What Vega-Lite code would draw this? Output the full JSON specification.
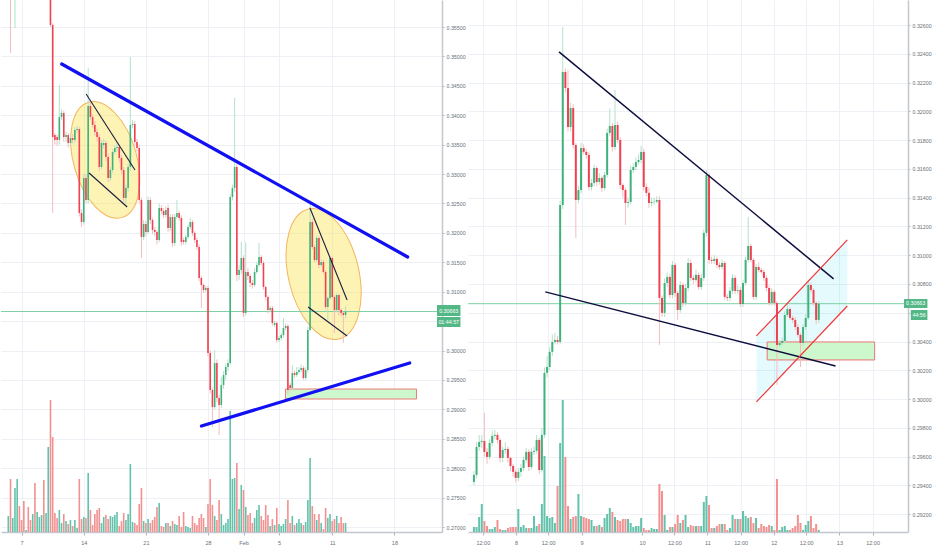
{
"$schema":"https://vega.github.io/schema/vega-lite/v6.json",
"padding":0,
"background":"#ffffff",
"spacing":26,
"bounds":"flush",
"config":{"view":{"stroke":null},"font":"Liberation Sans","axis":{"labelFont":"Liberation Sans","labelColor":"#6b6f78","labelFontSize":5.3,"gridColor":"#edf1f5","domainColor":"#c4c7cd","domainWidth":1.5,"tickColor":"#b0b3ba","labelOverlap":false}},
"datasets":{
"L":[
{"i":1,"o":0.368,"h":0.371,"l":0.366,"c":0.37,"v":16},
{"i":2,"o":0.37,"h":0.371,"l":0.3506,"c":0.367,"v":53},
{"i":3,"o":0.367,"h":0.37,"l":0.365,"c":0.369,"v":14},
{"i":4,"o":0.369,"h":0.373,"l":0.3548,"c":0.372,"v":44},
{"i":5,"o":0.372,"h":0.376,"l":0.37,"c":0.374,"v":53},
{"i":6,"o":0.374,"h":0.375,"l":0.37,"c":0.372,"v":26},
{"i":7,"o":0.372,"h":0.373,"l":0.369,"c":0.371,"v":12},
{"i":8,"o":0.371,"h":0.372,"l":0.367,"c":0.369,"v":31},
{"i":9,"o":0.369,"h":0.371,"l":0.368,"c":0.3695,"v":2},
{"i":10,"o":0.3695,"h":0.37,"l":0.366,"c":0.368,"v":25},
{"i":11,"o":0.368,"h":0.369,"l":0.366,"c":0.367,"v":12},
{"i":12,"o":0.367,"h":0.37,"l":0.366,"c":0.3685,"v":18},
{"i":13,"o":0.3685,"h":0.37,"l":0.365,"c":0.3665,"v":49},
{"i":14,"o":0.3665,"h":0.369,"l":0.3655,"c":0.368,"v":20},
{"i":15,"o":0.368,"h":0.37,"l":0.367,"c":0.369,"v":15},
{"i":16,"o":0.369,"h":0.371,"l":0.368,"c":0.37,"v":17},
{"i":17,"o":0.37,"h":0.371,"l":0.366,"c":0.3675,"v":52},
{"i":18,"o":0.3675,"h":0.37,"l":0.3665,"c":0.369,"v":19},
{"i":19,"o":0.369,"h":0.374,"l":0.368,"c":0.372,"v":85},
{"i":20,"o":0.372,"h":0.373,"l":0.355,"c":0.35534,"v":132},
{"i":21,"o":0.35534,"h":0.3557,"l":0.32338,"c":0.3363,"v":95},
{"i":22,"o":0.33664,"h":0.337,"l":0.335,"c":0.33579,"v":19},
{"i":23,"o":0.3363,"h":0.3367,"l":0.3348,"c":0.33579,"v":14},
{"i":24,"o":0.33579,"h":0.34514,"l":0.335,"c":0.3397,"v":22},
{"i":25,"o":0.3397,"h":0.341,"l":0.3392,"c":0.34038,"v":9},
{"i":26,"o":0.34038,"h":0.3408,"l":0.3355,"c":0.3363,"v":18},
{"i":27,"o":0.3363,"h":0.3372,"l":0.3355,"c":0.33664,"v":11},
{"i":28,"o":0.33664,"h":0.337,"l":0.3345,"c":0.33528,"v":8},
{"i":29,"o":0.33528,"h":0.3367,"l":0.3348,"c":0.33613,"v":12},
{"i":30,"o":0.33613,"h":0.3368,"l":0.3352,"c":0.33579,"v":6},
{"i":31,"o":0.33579,"h":0.338,"l":0.3353,"c":0.33749,"v":12},
{"i":32,"o":0.33749,"h":0.3382,"l":0.337,"c":0.33766,"v":4},
{"i":33,"o":0.33766,"h":0.338,"l":0.3228,"c":0.32338,"v":53},
{"i":34,"o":0.32338,"h":0.324,"l":0.321,"c":0.32185,"v":13},
{"i":35,"o":0.32185,"h":0.33,"l":0.3214,"c":0.32933,"v":15},
{"i":36,"o":0.32933,"h":0.33,"l":0.325,"c":0.32559,"v":14},
{"i":37,"o":0.32559,"h":0.34803,"l":0.325,"c":0.34157,"v":59},
{"i":38,"o":0.34157,"h":0.3422,"l":0.3392,"c":0.3397,"v":22},
{"i":39,"o":0.3397,"h":0.3402,"l":0.3378,"c":0.33834,"v":7},
{"i":40,"o":0.33834,"h":0.339,"l":0.3365,"c":0.33715,"v":18},
{"i":41,"o":0.33715,"h":0.3377,"l":0.3355,"c":0.3363,"v":22},
{"i":42,"o":0.3363,"h":0.3368,"l":0.3305,"c":0.3312,"v":24},
{"i":43,"o":0.3312,"h":0.3358,"l":0.3308,"c":0.33528,"v":9},
{"i":44,"o":0.33494,"h":0.336,"l":0.3344,"c":0.33528,"v":15},
{"i":45,"o":0.33528,"h":0.3357,"l":0.3322,"c":0.3329,"v":17},
{"i":46,"o":0.3329,"h":0.3335,"l":0.3286,"c":0.32933,"v":13},
{"i":47,"o":0.32933,"h":0.3312,"l":0.3288,"c":0.33069,"v":16},
{"i":48,"o":0.33069,"h":0.3342,"l":0.3302,"c":0.33375,"v":15},
{"i":49,"o":0.33375,"h":0.335,"l":0.3333,"c":0.33443,"v":17},
{"i":50,"o":0.33443,"h":0.3352,"l":0.3338,"c":0.3346,"v":20},
{"i":51,"o":0.3346,"h":0.335,"l":0.332,"c":0.33273,"v":6},
{"i":52,"o":0.33273,"h":0.3332,"l":0.33,"c":0.33069,"v":11},
{"i":53,"o":0.33069,"h":0.3312,"l":0.3252,"c":0.32593,"v":19},
{"i":54,"o":0.32593,"h":0.3282,"l":0.325,"c":0.32763,"v":12},
{"i":55,"o":0.32763,"h":0.3318,"l":0.327,"c":0.3312,"v":18},
{"i":56,"o":0.3312,"h":0.3499,"l":0.3305,"c":0.33834,"v":68},
{"i":57,"o":0.33834,"h":0.3392,"l":0.3378,"c":0.33851,"v":10},
{"i":58,"o":0.33851,"h":0.339,"l":0.3348,"c":0.33545,"v":9},
{"i":59,"o":0.33545,"h":0.336,"l":0.3338,"c":0.33443,"v":7},
{"i":60,"o":0.33443,"h":0.335,"l":0.325,"c":0.32559,"v":28},
{"i":61,"o":0.32559,"h":0.326,"l":0.31573,"c":0.3193,"v":44},
{"i":62,"o":0.3193,"h":0.3222,"l":0.3188,"c":0.32151,"v":11},
{"i":63,"o":0.32151,"h":0.322,"l":0.3195,"c":0.32015,"v":9},
{"i":64,"o":0.32015,"h":0.3262,"l":0.3198,"c":0.32559,"v":13},
{"i":65,"o":0.32559,"h":0.326,"l":0.3215,"c":0.32219,"v":9},
{"i":66,"o":0.32219,"h":0.3226,"l":0.3198,"c":0.32049,"v":12},
{"i":67,"o":0.32049,"h":0.321,"l":0.3195,"c":0.32015,"v":15},
{"i":68,"o":0.32015,"h":0.3205,"l":0.318,"c":0.31879,"v":25},
{"i":69,"o":0.31879,"h":0.325,"l":0.3184,"c":0.32423,"v":29},
{"i":70,"o":0.32423,"h":0.3247,"l":0.3232,"c":0.32372,"v":6},
{"i":71,"o":0.32372,"h":0.3242,"l":0.3225,"c":0.32304,"v":5},
{"i":72,"o":0.32304,"h":0.3245,"l":0.3226,"c":0.32389,"v":9},
{"i":73,"o":0.32423,"h":0.3248,"l":0.3202,"c":0.32083,"v":9},
{"i":74,"o":0.32083,"h":0.3232,"l":0.3203,"c":0.3227,"v":6},
{"i":75,"o":0.3227,"h":0.3232,"l":0.3176,"c":0.31828,"v":11},
{"i":76,"o":0.31828,"h":0.3232,"l":0.3178,"c":0.3227,"v":8},
{"i":77,"o":0.3227,"h":0.3256,"l":0.3223,"c":0.32338,"v":7},
{"i":78,"o":0.32338,"h":0.3238,"l":0.322,"c":0.32253,"v":16},
{"i":79,"o":0.32253,"h":0.323,"l":0.3178,"c":0.31845,"v":5},
{"i":80,"o":0.31879,"h":0.3192,"l":0.318,"c":0.31845,"v":20},
{"i":81,"o":0.31845,"h":0.3197,"l":0.318,"c":0.3193,"v":6},
{"i":82,"o":0.3193,"h":0.3214,"l":0.3189,"c":0.321,"v":5},
{"i":83,"o":0.321,"h":0.3225,"l":0.3206,"c":0.32185,"v":4},
{"i":84,"o":0.32185,"h":0.3222,"l":0.3195,"c":0.31998,"v":16},
{"i":85,"o":0.31998,"h":0.3203,"l":0.3183,"c":0.31879,"v":9},
{"i":86,"o":0.31879,"h":0.3192,"l":0.3171,"c":0.3176,"v":7},
{"i":87,"o":0.3176,"h":0.318,"l":0.3118,"c":0.31233,"v":14},
{"i":88,"o":0.31233,"h":0.3127,"l":0.3072,"c":0.31114,"v":18},
{"i":89,"o":0.31114,"h":0.3114,"l":0.3098,"c":0.31029,"v":14},
{"i":90,"o":0.31029,"h":0.311,"l":0.3099,"c":0.31063,"v":5},
{"i":91,"o":0.31063,"h":0.311,"l":0.299,"c":0.29958,"v":28},
{"i":92,"o":0.29958,"h":0.3,"l":0.2927,"c":0.29329,"v":53},
{"i":93,"o":0.29329,"h":0.2936,"l":0.287,"c":0.2904,"v":27},
{"i":94,"o":0.2904,"h":0.3001,"l":0.29,"c":0.29788,"v":16},
{"i":95,"o":0.29788,"h":0.2985,"l":0.2912,"c":0.29193,"v":12},
{"i":96,"o":0.29193,"h":0.2925,"l":0.28564,"c":0.29074,"v":32},
{"i":97,"o":0.29074,"h":0.2955,"l":0.2902,"c":0.29414,"v":18},
{"i":98,"o":0.29414,"h":0.2965,"l":0.2935,"c":0.29584,"v":7},
{"i":99,"o":0.29584,"h":0.2978,"l":0.295,"c":0.2972,"v":9},
{"i":100,"o":0.2972,"h":0.2985,"l":0.2965,"c":0.29788,"v":13},
{"i":101,"o":0.29788,"h":0.3266,"l":0.2975,"c":0.3261,"v":121},
{"i":102,"o":0.3261,"h":0.3282,"l":0.3255,"c":0.32763,"v":53},
{"i":103,"o":0.32763,"h":0.34293,"l":0.327,"c":0.3312,"v":54},
{"i":104,"o":0.3312,"h":0.3318,"l":0.3118,"c":0.31284,"v":69},
{"i":105,"o":0.31284,"h":0.3145,"l":0.312,"c":0.31369,"v":23},
{"i":106,"o":0.31369,"h":0.3185,"l":0.313,"c":0.31573,"v":47},
{"i":107,"o":0.31573,"h":0.3162,"l":0.3057,"c":0.30638,"v":42},
{"i":108,"o":0.30638,"h":0.3184,"l":0.306,"c":0.31335,"v":25},
{"i":109,"o":0.31335,"h":0.314,"l":0.312,"c":0.31267,"v":17},
{"i":110,"o":0.31267,"h":0.313,"l":0.3108,"c":0.31148,"v":19},
{"i":111,"o":0.31148,"h":0.312,"l":0.3105,"c":0.31114,"v":9},
{"i":112,"o":0.31114,"h":0.314,"l":0.3108,"c":0.31335,"v":14},
{"i":113,"o":0.31335,"h":0.315,"l":0.313,"c":0.31454,"v":22},
{"i":114,"o":0.31454,"h":0.3183,"l":0.3142,"c":0.3159,"v":27},
{"i":115,"o":0.3159,"h":0.3162,"l":0.3145,"c":0.31488,"v":16},
{"i":116,"o":0.31488,"h":0.3152,"l":0.3103,"c":0.3108,"v":12},
{"i":117,"o":0.3108,"h":0.311,"l":0.3085,"c":0.3091,"v":27},
{"i":118,"o":0.3091,"h":0.3094,"l":0.3063,"c":0.30689,"v":17},
{"i":119,"o":0.30689,"h":0.3076,"l":0.3065,"c":0.30723,"v":6},
{"i":120,"o":0.30723,"h":0.3076,"l":0.3042,"c":0.30468,"v":13},
{"i":121,"o":0.30434,"h":0.305,"l":0.304,"c":0.30468,"v":7},
{"i":122,"o":0.30468,"h":0.305,"l":0.3013,"c":0.30179,"v":24},
{"i":123,"o":0.30179,"h":0.3025,"l":0.3014,"c":0.30213,"v":8},
{"i":124,"o":0.30213,"h":0.303,"l":0.3017,"c":0.30264,"v":6},
{"i":125,"o":0.30264,"h":0.3055,"l":0.3022,"c":0.30383,"v":8},
{"i":126,"o":0.30383,"h":0.3046,"l":0.3034,"c":0.30417,"v":13},
{"i":127,"o":0.30417,"h":0.3045,"l":0.2926,"c":0.29329,"v":32},
{"i":128,"o":0.29414,"h":0.2945,"l":0.2931,"c":0.29363,"v":9},
{"i":129,"o":0.29363,"h":0.2975,"l":0.2933,"c":0.29618,"v":16},
{"i":130,"o":0.29618,"h":0.2966,"l":0.2954,"c":0.29584,"v":7},
{"i":131,"o":0.29584,"h":0.2972,"l":0.2955,"c":0.29635,"v":9},
{"i":132,"o":0.29635,"h":0.2972,"l":0.296,"c":0.29669,"v":13},
{"i":133,"o":0.29669,"h":0.2976,"l":0.2963,"c":0.29703,"v":9},
{"i":134,"o":0.29703,"h":0.2974,"l":0.295,"c":0.29533,"v":7},
{"i":135,"o":0.29533,"h":0.2972,"l":0.295,"c":0.29669,"v":10},
{"i":136,"o":0.29669,"h":0.304,"l":0.2963,"c":0.30349,"v":32},
{"i":137,"o":0.30349,"h":0.32559,"l":0.3032,"c":0.32185,"v":74},
{"i":138,"o":0.32185,"h":0.3224,"l":0.3172,"c":0.3176,"v":26},
{"i":139,"o":0.3176,"h":0.318,"l":0.315,"c":0.31539,"v":18},
{"i":140,"o":0.31539,"h":0.3196,"l":0.315,"c":0.31913,"v":12},
{"i":141,"o":0.31913,"h":0.3194,"l":0.314,"c":0.31454,"v":18},
{"i":142,"o":0.31454,"h":0.3155,"l":0.3142,"c":0.31505,"v":9},
{"i":143,"o":0.31505,"h":0.3154,"l":0.313,"c":0.31335,"v":3},
{"i":144,"o":0.31335,"h":0.3137,"l":0.307,"c":0.3074,"v":24},
{"i":145,"o":0.3074,"h":0.3092,"l":0.3052,"c":0.30893,"v":14},
{"i":146,"o":0.30893,"h":0.316,"l":0.3086,"c":0.31573,"v":18},
{"i":147,"o":0.31573,"h":0.316,"l":0.3088,"c":0.3091,"v":11},
{"i":148,"o":0.3091,"h":0.3094,"l":0.303,"c":0.30689,"v":13},
{"i":149,"o":0.30689,"h":0.3097,"l":0.3065,"c":0.30944,"v":16},
{"i":150,"o":0.30944,"h":0.3096,"l":0.306,"c":0.30689,"v":9},
{"i":151,"o":0.30689,"h":0.3072,"l":0.3058,"c":0.30638,"v":15},
{"i":152,"o":0.30638,"h":0.3066,"l":0.3013,"c":0.30604,"v":9},
{"i":153,"o":0.30604,"h":0.3075,"l":0.3055,"c":0.30663,"v":9}
],
"R":[
{"k":1,"o":0.29424,"h":0.295,"l":0.294,"c":0.29473,"v":5},
{"k":2,"o":0.29473,"h":0.297,"l":0.2945,"c":0.29667,"v":5},
{"k":3,"o":0.29667,"h":0.2975,"l":0.2964,"c":0.29702,"v":15},
{"k":4,"o":0.29702,"h":0.2975,"l":0.2966,"c":0.29709,"v":28},
{"k":5,"o":0.29709,"h":0.29904,"l":0.296,"c":0.29633,"v":11},
{"k":6,"o":0.29633,"h":0.2966,"l":0.2955,"c":0.29598,"v":6},
{"k":7,"o":0.29598,"h":0.2972,"l":0.2958,"c":0.29695,"v":3},
{"k":8,"o":0.29695,"h":0.2978,"l":0.2967,"c":0.29744,"v":3},
{"k":9,"o":0.29744,"h":0.29785,"l":0.2972,"c":0.29751,"v":5},
{"k":10,"o":0.29751,"h":0.2977,"l":0.2969,"c":0.29716,"v":12},
{"k":11,"o":0.29716,"h":0.2973,"l":0.2956,"c":0.29591,"v":3},
{"k":12,"o":0.29591,"h":0.2967,"l":0.2956,"c":0.29646,"v":2},
{"k":13,"o":0.29646,"h":0.297,"l":0.2962,"c":0.29653,"v":2},
{"k":14,"o":0.29653,"h":0.2967,"l":0.2956,"c":0.29591,"v":4},
{"k":15,"o":0.29591,"h":0.296,"l":0.295,"c":0.29535,"v":5},
{"k":16,"o":0.29535,"h":0.2955,"l":0.2946,"c":0.29494,"v":5},
{"k":17,"o":0.29494,"h":0.2951,"l":0.2942,"c":0.29452,"v":5},
{"k":18,"o":0.29452,"h":0.2952,"l":0.2943,"c":0.29494,"v":23},
{"k":19,"o":0.29494,"h":0.2955,"l":0.2946,"c":0.29521,"v":5},
{"k":20,"o":0.29521,"h":0.296,"l":0.295,"c":0.29577,"v":7},
{"k":21,"o":0.29577,"h":0.2966,"l":0.2956,"c":0.29633,"v":4},
{"k":22,"o":0.29633,"h":0.2965,"l":0.295,"c":0.29528,"v":4},
{"k":23,"o":0.29528,"h":0.2966,"l":0.2951,"c":0.29633,"v":4},
{"k":24,"o":0.29633,"h":0.2967,"l":0.2961,"c":0.2964,"v":16},
{"k":25,"o":0.2964,"h":0.2975,"l":0.2962,"c":0.29716,"v":6},
{"k":26,"o":0.29716,"h":0.2973,"l":0.2948,"c":0.29507,"v":8},
{"k":27,"o":0.29507,"h":0.298,"l":0.2949,"c":0.29751,"v":28},
{"k":28,"o":0.29751,"h":0.3022,"l":0.2973,"c":0.30182,"v":76},
{"k":29,"o":0.30182,"h":0.303,"l":0.3015,"c":0.30223,"v":16},
{"k":30,"o":0.30223,"h":0.3036,"l":0.302,"c":0.30328,"v":14},
{"k":31,"o":0.30328,"h":0.3045,"l":0.303,"c":0.30397,"v":15},
{"k":32,"o":0.30397,"h":0.3046,"l":0.3038,"c":0.30411,"v":9},
{"k":33,"o":0.30411,"h":0.3044,"l":0.3038,"c":0.30397,"v":46},
{"k":34,"o":0.30397,"h":0.3138,"l":0.3038,"c":0.31349,"v":89},
{"k":35,"o":0.31349,"h":0.32586,"l":0.3132,"c":0.32274,"v":132},
{"k":36,"o":0.32274,"h":0.323,"l":0.3213,"c":0.32162,"v":75},
{"k":37,"o":0.32162,"h":0.32287,"l":0.3186,"c":0.31891,"v":26},
{"k":38,"o":0.31891,"h":0.3206,"l":0.3186,"c":0.32023,"v":13},
{"k":39,"o":0.32023,"h":0.3205,"l":0.3174,"c":0.31766,"v":15},
{"k":40,"o":0.31766,"h":0.3178,"l":0.3112,"c":0.31384,"v":16},
{"k":41,"o":0.31384,"h":0.3148,"l":0.3136,"c":0.31453,"v":38},
{"k":42,"o":0.31453,"h":0.3178,"l":0.3143,"c":0.31745,"v":16},
{"k":43,"o":0.31745,"h":0.3177,"l":0.317,"c":0.31718,"v":15},
{"k":44,"o":0.31718,"h":0.3174,"l":0.3167,"c":0.31697,"v":14},
{"k":45,"o":0.31697,"h":0.3172,"l":0.3145,"c":0.31474,"v":13},
{"k":46,"o":0.31474,"h":0.3153,"l":0.3145,"c":0.31502,"v":12},
{"k":47,"o":0.31502,"h":0.3163,"l":0.3148,"c":0.31606,"v":6},
{"k":48,"o":0.31606,"h":0.3162,"l":0.3148,"c":0.31509,"v":6},
{"k":49,"o":0.31509,"h":0.3157,"l":0.3149,"c":0.31537,"v":7},
{"k":50,"o":0.31537,"h":0.3155,"l":0.3144,"c":0.31467,"v":5},
{"k":51,"o":0.31467,"h":0.3158,"l":0.3145,"c":0.31558,"v":14},
{"k":52,"o":0.31558,"h":0.3188,"l":0.3154,"c":0.3185,"v":18},
{"k":53,"o":0.3185,"h":0.3202,"l":0.3183,"c":0.31898,"v":24},
{"k":54,"o":0.31898,"h":0.3192,"l":0.3172,"c":0.31752,"v":20},
{"k":55,"o":0.31752,"h":0.32148,"l":0.3173,"c":0.31905,"v":15},
{"k":56,"o":0.31905,"h":0.3193,"l":0.3178,"c":0.31801,"v":12},
{"k":57,"o":0.31801,"h":0.3182,"l":0.3146,"c":0.31488,"v":11},
{"k":58,"o":0.31488,"h":0.315,"l":0.314,"c":0.31453,"v":13},
{"k":59,"o":0.31453,"h":0.3147,"l":0.3121,"c":0.31363,"v":13},
{"k":60,"o":0.31363,"h":0.314,"l":0.3133,"c":0.3137,"v":13},
{"k":61,"o":0.3137,"h":0.3162,"l":0.3135,"c":0.31592,"v":9},
{"k":62,"o":0.31592,"h":0.3164,"l":0.3157,"c":0.31613,"v":5},
{"k":63,"o":0.31613,"h":0.3168,"l":0.3159,"c":0.31648,"v":6},
{"k":64,"o":0.31648,"h":0.317,"l":0.3163,"c":0.31662,"v":6},
{"k":65,"o":0.31662,"h":0.3176,"l":0.3164,"c":0.31718,"v":14},
{"k":66,"o":0.31718,"h":0.3174,"l":0.3145,"c":0.31474,"v":4},
{"k":67,"o":0.31474,"h":0.315,"l":0.3141,"c":0.31433,"v":2},
{"k":68,"o":0.31433,"h":0.3147,"l":0.3133,"c":0.31363,"v":2},
{"k":69,"o":0.31363,"h":0.314,"l":0.3134,"c":0.3137,"v":4},
{"k":70,"o":0.3137,"h":0.314,"l":0.3135,"c":0.31372,"v":3},
{"k":71,"o":0.31372,"h":0.3141,"l":0.3136,"c":0.31384,"v":3},
{"k":72,"o":0.31384,"h":0.3141,"l":0.30376,"c":0.30703,"v":48},
{"k":73,"o":0.30703,"h":0.3072,"l":0.3057,"c":0.30599,"v":41},
{"k":74,"o":0.30599,"h":0.3084,"l":0.3057,"c":0.30807,"v":17},
{"k":75,"o":0.30807,"h":0.3088,"l":0.3078,"c":0.30849,"v":2},
{"k":76,"o":0.30849,"h":0.3087,"l":0.307,"c":0.30724,"v":5},
{"k":77,"o":0.30724,"h":0.3096,"l":0.307,"c":0.30932,"v":5},
{"k":78,"o":0.30932,"h":0.3095,"l":0.3071,"c":0.30738,"v":8},
{"k":79,"o":0.30738,"h":0.3075,"l":0.3055,"c":0.30619,"v":17},
{"k":80,"o":0.30619,"h":0.3082,"l":0.306,"c":0.30793,"v":9},
{"k":81,"o":0.30793,"h":0.3081,"l":0.3064,"c":0.30668,"v":12},
{"k":82,"o":0.30668,"h":0.308,"l":0.3065,"c":0.30772,"v":17},
{"k":83,"o":0.30772,"h":0.3098,"l":0.3075,"c":0.30946,"v":5},
{"k":84,"o":0.30946,"h":0.3097,"l":0.3082,"c":0.30842,"v":7},
{"k":85,"o":0.30842,"h":0.3086,"l":0.308,"c":0.30828,"v":6},
{"k":86,"o":0.30828,"h":0.309,"l":0.3081,"c":0.30863,"v":6},
{"k":87,"o":0.30863,"h":0.3088,"l":0.3076,"c":0.30779,"v":6},
{"k":88,"o":0.30779,"h":0.3087,"l":0.3076,"c":0.30842,"v":6},
{"k":89,"o":0.30842,"h":0.3118,"l":0.3082,"c":0.31155,"v":30},
{"k":90,"o":0.31155,"h":0.31592,"l":0.3113,"c":0.31558,"v":36},
{"k":91,"o":0.31558,"h":0.3157,"l":0.3094,"c":0.30967,"v":27},
{"k":92,"o":0.30967,"h":0.3099,"l":0.3094,"c":0.3096,"v":4},
{"k":93,"o":0.3096,"h":0.31,"l":0.3094,"c":0.30974,"v":4},
{"k":94,"o":0.30974,"h":0.3099,"l":0.3091,"c":0.30932,"v":6},
{"k":95,"o":0.30932,"h":0.3095,"l":0.309,"c":0.30918,"v":8},
{"k":96,"o":0.30918,"h":0.3097,"l":0.309,"c":0.30946,"v":8},
{"k":97,"o":0.30946,"h":0.3096,"l":0.3069,"c":0.3071,"v":8},
{"k":98,"o":0.3071,"h":0.3073,"l":0.3068,"c":0.30703,"v":2},
{"k":99,"o":0.30703,"h":0.3078,"l":0.3068,"c":0.30752,"v":4},
{"k":100,"o":0.30752,"h":0.3087,"l":0.3073,"c":0.30842,"v":17},
{"k":101,"o":0.30842,"h":0.3086,"l":0.3073,"c":0.30752,"v":13},
{"k":102,"o":0.30752,"h":0.3079,"l":0.3073,"c":0.30758,"v":13},
{"k":103,"o":0.30758,"h":0.3078,"l":0.3064,"c":0.30661,"v":13},
{"k":104,"o":0.30661,"h":0.3083,"l":0.3064,"c":0.30807,"v":21},
{"k":105,"o":0.30807,"h":0.3099,"l":0.3079,"c":0.30967,"v":16},
{"k":106,"o":0.30967,"h":0.31266,"l":0.3095,"c":0.31064,"v":14},
{"k":107,"o":0.31064,"h":0.3108,"l":0.3095,"c":0.30967,"v":15},
{"k":108,"o":0.30967,"h":0.3098,"l":0.3069,"c":0.3071,"v":9},
{"k":109,"o":0.3071,"h":0.3094,"l":0.3069,"c":0.30918,"v":14},
{"k":110,"o":0.30918,"h":0.3095,"l":0.3088,"c":0.30897,"v":4},
{"k":111,"o":0.30897,"h":0.3091,"l":0.3087,"c":0.30884,"v":8},
{"k":112,"o":0.30884,"h":0.309,"l":0.3082,"c":0.30842,"v":6},
{"k":113,"o":0.30842,"h":0.3086,"l":0.3075,"c":0.30772,"v":5},
{"k":114,"o":0.30772,"h":0.3079,"l":0.3065,"c":0.30668,"v":7},
{"k":115,"o":0.30668,"h":0.3077,"l":0.3065,"c":0.30745,"v":6},
{"k":116,"o":0.30745,"h":0.3076,"l":0.3065,"c":0.30668,"v":2},
{"k":117,"o":0.30668,"h":0.3068,"l":0.30098,"c":0.30376,"v":53},
{"k":118,"o":0.30376,"h":0.3041,"l":0.3036,"c":0.3039,"v":2},
{"k":119,"o":0.3039,"h":0.3043,"l":0.3037,"c":0.30404,"v":5},
{"k":120,"o":0.30404,"h":0.3061,"l":0.3039,"c":0.30585,"v":6},
{"k":121,"o":0.30585,"h":0.3066,"l":0.3057,"c":0.30626,"v":2},
{"k":122,"o":0.30626,"h":0.3064,"l":0.3055,"c":0.30564,"v":2},
{"k":123,"o":0.30564,"h":0.3058,"l":0.3053,"c":0.3055,"v":4},
{"k":124,"o":0.3055,"h":0.3057,"l":0.3048,"c":0.30501,"v":6},
{"k":125,"o":0.30501,"h":0.3052,"l":0.3043,"c":0.30446,"v":17},
{"k":126,"o":0.30446,"h":0.3046,"l":0.30223,"c":0.3039,"v":9},
{"k":127,"o":0.3039,"h":0.3052,"l":0.3037,"c":0.30501,"v":2},
{"k":128,"o":0.30501,"h":0.3059,"l":0.3048,"c":0.30564,"v":7},
{"k":129,"o":0.30564,"h":0.30828,"l":0.3055,"c":0.30793,"v":11},
{"k":130,"o":0.30793,"h":0.3081,"l":0.3074,"c":0.30758,"v":16},
{"k":131,"o":0.30758,"h":0.3077,"l":0.3065,"c":0.30668,"v":4},
{"k":132,"o":0.30668,"h":0.3068,"l":0.3052,"c":0.3055,"v":8},
{"k":133,"o":0.3055,"h":0.3068,"l":0.3053,"c":0.30663,"v":2}
],
"LB":[{"x1":194.2,"x2":204.77,"y1":0.30774,"y2":0.30587,"t":"0.30663","xm":199.48,"ym":0.3068},{"x1":194.2,"x2":204.77,"y1":0.3057,"y2":0.304,"t":"01:44:57","xm":199.48,"ym":0.30485}],
"RB":[{"x1":165.63,"x2":174.6,"y1":0.30696,"y2":0.30633,"t":"0.30663","xm":170.1,"ym":0.306645},{"x1":168.24,"x2":174.6,"y1":0.30619,"y2":0.3055,"t":"44:56","xm":171.4,"ym":0.30585}]
},
"hconcat":[
{
"width":441,"height":532,
"resolve":{"scale":{"y":"independent"}},
"layer":[
{"data":{"name":"L"},"mark":{"type":"bar","size":1.6,"clip":true,"orient":"vertical"},
 "encoding":{
  "x":{"field":"i","type":"quantitative","scale":{"domain":[-0.04,194.2],"nice":false,"zero":false},
       "axis":{"title":null,"values":[7,35,63,91,107,123,147,175],"tickCount":40,"labelExpr":"datum.value == 7 ? '7' : datum.value == 35 ? '14' : datum.value == 63 ? '21' : datum.value == 91 ? '28' : datum.value == 107 ? 'Feb' : datum.value == 123 ? '5' : datum.value == 147 ? '11' : '18'","grid":true,"tickSize":3,"labelPadding":5,"labelFontSize":5.5,"labelOverlap":false}},
  "y":{"field":"v","type":"quantitative","scale":{"domain":[0,532],"nice":false},"axis":null,"stack":null},
  "color":{"condition":{"test":"datum.c >= datum.o","value":"#62c2ab"},"value":"#f39090"}}},
{"data":{"values":[{"i":44.67,"p":0.3324}]},
 "mark":{"type":"point","shape":"M0,-60C17.45,-60,31.6,-33.14,31.6,0C31.6,33.14,17.45,60,0,60C-17.45,60,-31.6,33.14,-31.6,0C-31.6,-33.14,-17.45,-60,0,-60Z","size":4,"angle":-16,"filled":true,"fill":"#f9e45a","fillOpacity":0.45,"stroke":"#f4b45c","strokeWidth":1,"opacity":1},
 "encoding":{"x":{"field":"i","type":"quantitative"},
  "y":{"field":"p","type":"quantitative","scale":{"domain":[0.26915,0.35959],"nice":false,"zero":false},"axis":null}}},
{"data":{"values":[{"i":143.1,"p":0.313}]},
 "mark":{"type":"point","shape":"M0,-66.7C19.5,-66.7,35.3,-36.84,35.3,0C35.3,36.84,19.5,66.7,0,66.7C-19.5,66.7,-35.3,36.84,-35.3,0C-35.3,-36.84,-19.5,-66.7,0,-66.7Z","size":4,"angle":-13,"filled":true,"fill":"#f9e45a","fillOpacity":0.45,"stroke":"#f4b45c","strokeWidth":1,"opacity":1},
 "encoding":{"x":{"field":"i","type":"quantitative"},
  "y":{"field":"p","type":"quantitative","scale":{"domain":[0.26915,0.35959],"nice":false,"zero":false},"axis":null}}},
{"data":{"values":[{"i":125.93,"i2":184.95,"p1":0.29346,"p2":0.29176}]},
 "mark":{"type":"rect","fill":"#cdf7cd","stroke":"#ee7b7b","strokeWidth":1},
 "encoding":{"x":{"field":"i","type":"quantitative"},"x2":{"field":"i2"},
  "y":{"field":"p1","type":"quantitative","scale":{"domain":[0.26915,0.35959],"nice":false,"zero":false},"axis":null},"y2":{"field":"p2"}}},
{"data":{"values":[{"p":0.30663}]},
 "mark":{"type":"rule","color":"#7fcfa3","stroke":"#7fcfa3","strokeWidth":1},
 "encoding":{"y":{"field":"p","type":"quantitative","scale":{"domain":[0.26915,0.35959],"nice":false,"zero":false},"axis":null}}},
{"data":{"name":"L"},"mark":{"type":"rule","strokeWidth":1,"clip":true},
 "encoding":{"x":{"field":"i","type":"quantitative"},
  "y":{"field":"l","type":"quantitative","scale":{"domain":[0.26915,0.35959],"nice":false,"zero":false},"axis":null},"y2":{"field":"h"},
  "color":{"condition":{"test":"datum.c >= datum.o","value":"#b3e1c9"},"value":"#f6bcc0"}}},
{"data":{"name":"L"},"mark":{"type":"bar","size":1.6,"clip":true,"orient":"vertical"},
 "encoding":{
  "x":{"field":"i","type":"quantitative"},
  "y":{"field":"o","type":"quantitative","scale":{"domain":[0.26915,0.35959],"nice":false,"zero":false},
       "axis":{"title":null,"orient":"right","values":[0.27,0.275,0.28,0.285,0.29,0.295,0.3,0.305,0.31,0.315,0.32,0.325,0.33,0.335,0.34,0.345,0.35,0.355],"tickCount":40,"labelExpr":"datum.value == 0.305 ? '' : format(datum.value, '.5f')","grid":true,"tickSize":2,"labelPadding":2,"labelOverlap":false}},
  "y2":{"field":"c"},
  "color":{"condition":{"test":"datum.c >= datum.o","value":"#3fb27b"},"value":"#ef4250"}}},
{"data":{"values":[{"g":"a","i":25.07,"p":0.34871},{"g":"a","i":180.98,"p":0.3159},{"g":"b","i":88.05,"p":0.28717},{"g":"b","i":181.9,"p":0.29788}]},
 "mark":{"type":"line","color":"#1010f2","strokeWidth":3.2,"strokeCap":"round"},
 "encoding":{"x":{"field":"i","type":"quantitative"},
  "y":{"field":"p","type":"quantitative","scale":{"domain":[0.26915,0.35959],"nice":false,"zero":false},"axis":null},"detail":{"field":"g"}}},
{"data":{"values":[{"g":"c","i":36.08,"p":0.34361},{"g":"c","i":58.1,"p":0.33069},{"g":"d","i":37.4,"p":0.33018},{"g":"d","i":54.58,"p":0.3244},{"g":"e","i":136.94,"p":0.32423},{"g":"e","i":153.68,"p":0.30859},{"g":"f","i":136.1,"p":0.3074},{"g":"f","i":153.68,"p":0.30247}]},
 "mark":{"type":"line","color":"#1c1c40","strokeWidth":1.1},
 "encoding":{"x":{"field":"i","type":"quantitative"},
  "y":{"field":"p","type":"quantitative","scale":{"domain":[0.26915,0.35959],"nice":false,"zero":false},"axis":null},"detail":{"field":"g"}}},
{"data":{"name":"LB"},"mark":{"type":"rect","fill":"#53b886","clip":false},
 "encoding":{"x":{"field":"x1","type":"quantitative"},"x2":{"field":"x2"},
  "y":{"field":"y1","type":"quantitative","scale":{"domain":[0.26915,0.35959],"nice":false,"zero":false},"axis":null},"y2":{"field":"y2"}}},
{"data":{"name":"LB"},"mark":{"type":"text","color":"#ffffff","fontSize":5.3,"align":"center","baseline":"middle","font":"Liberation Sans"},
 "encoding":{"x":{"field":"xm","type":"quantitative"},
  "y":{"field":"ym","type":"quantitative","scale":{"domain":[0.26915,0.35959],"nice":false,"zero":false},"axis":null},"text":{"field":"t"}}}
]
},
{
"width":440,"height":532,
"resolve":{"scale":{"y":"independent"}},
"layer":[
{"data":{"name":"R"},"mark":{"type":"bar","size":2,"clip":true,"orient":"vertical"},
 "encoding":{
  "x":{"field":"k","type":"quantitative","scale":{"domain":[0.64,165.25],"nice":false,"zero":false},
       "axis":{"title":null,"values":[4.4,17.1,29.4,42.2,65.4,77.7,90.4,103.1,115.8,128.2,140.9,153.6],"tickCount":40,"labelExpr":"datum.value == 17.1 ? '8' : datum.value == 42.2 ? '9' : datum.value == 65.4 ? '10' : datum.value == 90.4 ? '11' : datum.value == 115.8 ? '12' : datum.value == 140.9 ? '13' : '12:00'","grid":true,"tickSize":3,"labelPadding":5,"labelFontSize":5.5,"labelOverlap":false}},
  "y":{"field":"v","type":"quantitative","scale":{"domain":[0,532],"nice":false},"axis":null,"stack":null},
  "color":{"condition":{"test":"datum.c >= datum.o","value":"#62c2ab"},"value":"#f39090"}}},
{"data":{"values":[{"k":109.13,"t":0.30439,"b":0.2998},{"k":143.93,"t":0.31106,"b":0.30647}]},
 "mark":{"type":"area","color":"#00d2ea","opacity":0.1},
 "encoding":{"x":{"field":"k","type":"quantitative"},
  "y":{"field":"t","type":"quantitative","scale":{"domain":[0.29076,0.32774],"nice":false,"zero":false},"axis":null},
  "y2":{"field":"b"}}},
{"data":{"values":[{"k":113.25,"k2":154.4,"p1":0.30397,"p2":0.30272}]},
 "mark":{"type":"rect","fill":"#cdf7cd","stroke":"#ee7272","strokeWidth":1},
 "encoding":{"x":{"field":"k","type":"quantitative"},"x2":{"field":"k2"},
  "y":{"field":"p1","type":"quantitative","scale":{"domain":[0.29076,0.32774],"nice":false,"zero":false},"axis":null},"y2":{"field":"p2"}}},
{"data":{"values":[{"p":0.30663}]},
 "mark":{"type":"rule","color":"#7fcfa3","stroke":"#7fcfa3","strokeWidth":1},
 "encoding":{"y":{"field":"p","type":"quantitative","scale":{"domain":[0.29076,0.32774],"nice":false,"zero":false},"axis":null}}},
{"data":{"name":"R"},"mark":{"type":"rule","strokeWidth":1,"clip":true},
 "encoding":{"x":{"field":"k","type":"quantitative"},
  "y":{"field":"l","type":"quantitative","scale":{"domain":[0.29076,0.32774],"nice":false,"zero":false},"axis":null},"y2":{"field":"h"},
  "color":{"condition":{"test":"datum.c >= datum.o","value":"#b3e1c9"},"value":"#f6bcc0"}}},
{"data":{"name":"R"},"mark":{"type":"bar","size":2,"clip":true,"orient":"vertical"},
 "encoding":{
  "x":{"field":"k","type":"quantitative"},
  "y":{"field":"o","type":"quantitative","scale":{"domain":[0.29076,0.32774],"nice":false,"zero":false},
       "axis":{"title":null,"orient":"right","values":[0.292,0.294,0.296,0.298,0.3,0.302,0.304,0.306,0.308,0.31,0.312,0.314,0.316,0.318,0.32,0.322,0.324,0.326],"tickCount":40,"labelExpr":"datum.value == 0.306 ? '' : format(datum.value, '.5f')","grid":true,"tickSize":2,"labelPadding":2,"labelOverlap":false}},
  "y2":{"field":"c"},
  "color":{"condition":{"test":"datum.c >= datum.o","value":"#3fb27b"},"value":"#ef4250"}}},
{"data":{"values":[{"g":"a","k":33.56,"p":0.32413},{"g":"a","k":138.69,"p":0.30835},{"g":"b","k":28.32,"p":0.30745},{"g":"b","k":139.44,"p":0.3023}]},
 "mark":{"type":"line","color":"#0e0e3e","strokeWidth":1.5},
 "encoding":{"x":{"field":"k","type":"quantitative"},
  "y":{"field":"p","type":"quantitative","scale":{"domain":[0.29076,0.32774],"nice":false,"zero":false},"axis":null},"detail":{"field":"g"}}},
{"data":{"values":[{"g":"u","k":109.13,"p":0.30439},{"g":"u","k":143.93,"p":0.31106},{"g":"d","k":109.13,"p":0.2998},{"g":"d","k":143.93,"p":0.30647}]},
 "mark":{"type":"line","color":"#f03838","strokeWidth":1.2},
 "encoding":{"x":{"field":"k","type":"quantitative"},
  "y":{"field":"p","type":"quantitative","scale":{"domain":[0.29076,0.32774],"nice":false,"zero":false},"axis":null},"detail":{"field":"g"}}},
{"data":{"name":"RB"},"mark":{"type":"rect","fill":"#53b886","clip":false},
 "encoding":{"x":{"field":"x1","type":"quantitative"},"x2":{"field":"x2"},
  "y":{"field":"y1","type":"quantitative","scale":{"domain":[0.29076,0.32774],"nice":false,"zero":false},"axis":null},"y2":{"field":"y2"}}},
{"data":{"name":"RB"},"mark":{"type":"text","color":"#ffffff","fontSize":5.3,"align":"center","baseline":"middle","font":"Liberation Sans"},
 "encoding":{"x":{"field":"xm","type":"quantitative"},
  "y":{"field":"ym","type":"quantitative","scale":{"domain":[0.29076,0.32774],"nice":false,"zero":false},"axis":null},"text":{"field":"t"}}}
]
}
]
}
